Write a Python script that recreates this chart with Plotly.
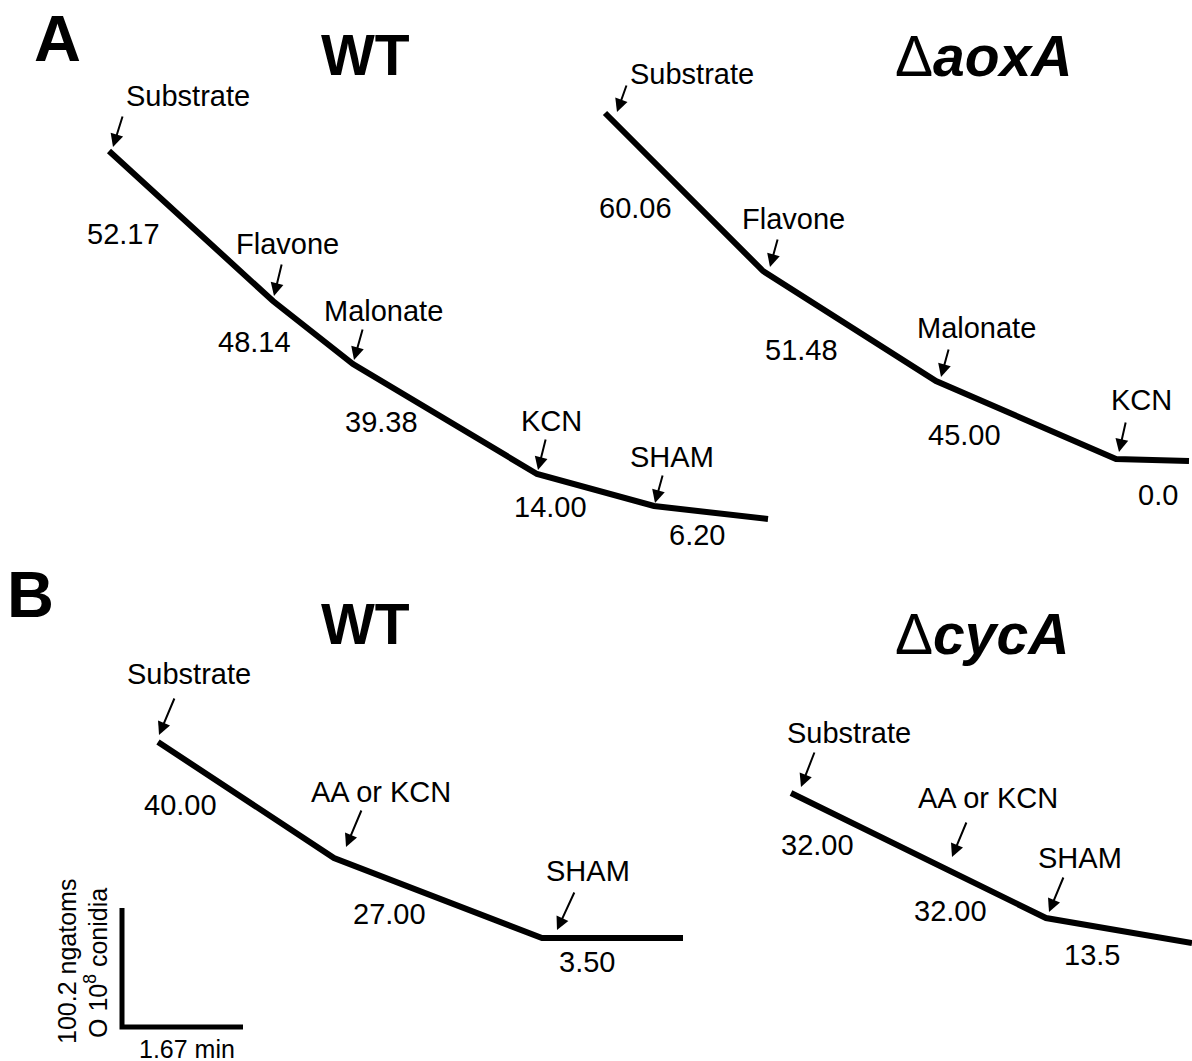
import plotly.graph_objects as go

# ---------------- data (trace vertices, drawing units) -------------
# Panel A, WT
wt_a_x = [109, 273, 353, 537, 654, 768]
wt_a_y = [151, 301, 364, 474, 506, 519]
wt_a_events = ["Substrate", "Flavone", "Malonate", "KCN", "SHAM"]
wt_a_rates = ["52.17", "48.14", "39.38", "14.00", "6.20"]

# Panel A, delta aoxA
aox_x = [605, 763, 936, 1116, 1189]
aox_y = [113, 271, 381, 459, 461]
aox_events = ["Substrate", "Flavone", "Malonate", "KCN"]
aox_rates = ["60.06", "51.48", "45.00", "0.0"]

# Panel B, WT
wt_b_x = [158, 334, 542, 683]
wt_b_y = [742, 858, 938, 938]
wt_b_events = ["Substrate", "AA or KCN", "SHAM"]
wt_b_rates = ["40.00", "27.00", "3.50"]

# Panel B, delta cycA
cyc_x = [791, 1046, 1192]
cyc_y = [793, 918, 943]
cyc_events = ["Substrate", "AA or KCN", "SHAM"]
cyc_rates = ["32.00", "32.00", "13.5"]

# scale bar
scale_x = [122, 122, 243]
scale_y = [908, 1027, 1027]
scale_labels = ["100.2 ngatoms", "O 10<sup>8</sup> conidia", "1.67 min"]

titles = ["WT", "Δ<b><i>aoxA</i></b>", "WT", "Δ<b><i>cycA</i></b>"]
panel_letters = ["A", "B"]

# ---------------- layout positions ------------------------------------------------------
FONT = "Liberation Sans, Arial, Helvetica, sans-serif"
LBL = 29

# event label positions (text centre) and arrow tail/head
wt_a_event_pos = [(188, 96), (287, 244), (383, 311), (551, 421), (672, 457)]
wt_a_arrows = [((123, 115), (113, 147)), ((282, 263), (274, 296)), ((363, 328), (354, 360)),
               ((546, 438), (538, 470)), ((663, 474), (655, 503))]
wt_a_rate_pos = [(123, 234), (254, 342), (381, 422), (550, 507), (697, 535)]

aox_event_pos = [(692, 74), (793, 219), (976, 328), (1141, 400)]
aox_arrows = [((627, 84), (617, 112)), ((778, 238), (770, 267)), ((949, 348), (941, 377)),
              ((1126, 421), (1119, 452))]
aox_rate_pos = [(635, 208), (801, 350), (964, 435), (1158, 495)]

wt_b_event_pos = [(189, 674), (381, 792), (588, 871)]
wt_b_arrows = [((175, 697), (159, 735)), ((362, 809), (346, 847)), ((575, 891), (557, 930))]
wt_b_rate_pos = [(180, 805), (389, 914), (587, 962)]

cyc_event_pos = [(849, 733), (988, 798), (1080, 858)]
cyc_arrows = [((815, 751), (801, 787)), ((967, 821), (952, 857)), ((1064, 876), (1049, 912))]
cyc_rate_pos = [(817, 845), (950, 911), (1092, 955)]

fig = go.Figure()

for xs, ys in [(wt_a_x, wt_a_y), (aox_x, aox_y), (wt_b_x, wt_b_y), (cyc_x, cyc_y)]:
    fig.add_trace(go.Scatter(x=xs, y=ys, mode="lines",
                             line=dict(color="black", width=6), hoverinfo="skip",
                             showlegend=False))

fig.add_trace(go.Scatter(x=scale_x, y=scale_y, mode="lines",
                         line=dict(color="black", width=5), hoverinfo="skip",
                         showlegend=False))

ann = []


def text(x, y, s, size=LBL, **kw):
    ann.append(dict(x=x, y=y, xref="x", yref="y", text=s, showarrow=False,
                    xanchor="center", yanchor="middle",
                    font=dict(family=FONT, size=size, color="black"), **kw))


def arrow(tail, head):
    ann.append(dict(x=head[0], y=head[1], ax=tail[0], ay=tail[1], xref="x", yref="y",
                    axref="x", ayref="y", text="", showarrow=True, arrowhead=2,
                    arrowsize=1.3, arrowwidth=2, arrowcolor="black", standoff=0,
                    startstandoff=0))


for evs, epos, arrs, rates, rpos in [
    (wt_a_events, wt_a_event_pos, wt_a_arrows, wt_a_rates, wt_a_rate_pos),
    (aox_events, aox_event_pos, aox_arrows, aox_rates, aox_rate_pos),
    (wt_b_events, wt_b_event_pos, wt_b_arrows, wt_b_rates, wt_b_rate_pos),
    (cyc_events, cyc_event_pos, cyc_arrows, cyc_rates, cyc_rate_pos),
]:
    for e, p, a in zip(evs, epos, arrs):
        text(p[0], p[1], e)
        arrow(*a)
    for r, p in zip(rates, rpos):
        text(p[0], p[1], r)

# titles
title_pos = [(365, 55), (983, 56), (365, 624), (982, 634)]
for t, p in zip(titles, title_pos):
    s = t if "Δ" in t else "<b>" + t + "</b>"
    text(p[0], p[1], s, size=57)

# panel letters
for l, p in zip(panel_letters, [(57, 38), (30, 594)]):
    text(p[0], p[1], "<b>" + l + "</b>", size=65)

# scale-bar labels
text(67, 962, scale_labels[0], size=25, textangle=-90)
text(96, 963, scale_labels[1], size=25, textangle=-90)
text(187, 1049, scale_labels[2], size=25)

fig.update_layout(
    width=1192, height=1061,
    margin=dict(l=0, r=0, t=0, b=0),
    paper_bgcolor="white", plot_bgcolor="white",
    xaxis=dict(range=[0, 1192], visible=False, fixedrange=True),
    yaxis=dict(range=[1061, 0], visible=False, fixedrange=True),
    annotations=ann,
    showlegend=False,
)

fig.write_html("out.html", config={"displayModeBar": False})
